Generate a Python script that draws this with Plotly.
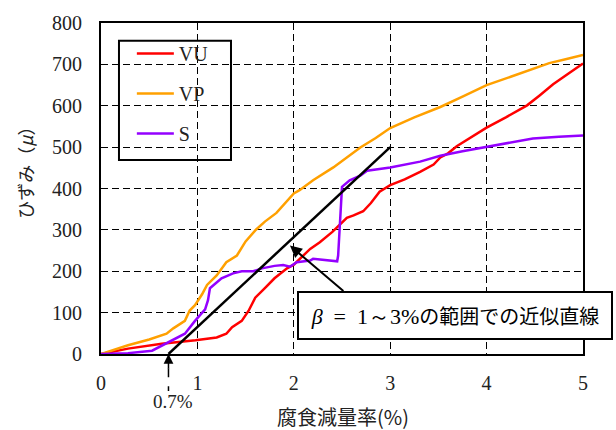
import plotly.graph_objects as go

# ---- data ----
vu_x = [0, 0.28, 0.63, 0.98, 1.2, 1.30, 1.36, 1.46, 1.53, 1.58, 1.60, 1.70, 1.80, 1.93, 2.0, 2.17, 2.27, 2.40,
        2.48, 2.55, 2.62, 2.72, 2.80, 2.89, 3.0, 3.15, 3.31, 3.45, 3.52, 3.60, 3.69, 3.85, 4.0, 4.2, 4.42,
        4.55, 4.69, 4.85, 5.0]
vu_y = [0, 13, 25, 33, 40, 49, 65, 80, 104, 130, 136, 159, 183, 207, 216, 254, 270, 295, 313, 329, 335, 345,
        365, 392, 408, 422, 440, 458, 475, 485, 502, 525, 547, 572, 601, 625, 652, 678, 702]

vp_x = [0, 0.28, 0.5, 0.68, 0.75, 0.87, 0.92, 0.975, 1.05, 1.10, 1.20, 1.30, 1.41, 1.50, 1.61, 1.70, 1.82,
        2.0, 2.06, 2.2, 2.41, 2.55, 2.69, 2.85, 3.0, 3.25, 3.52, 3.75, 4.0, 4.25, 4.48, 4.65, 4.83, 5.0]
vp_y = [0, 21, 35, 49, 62, 80, 105, 118, 145, 167, 190, 222, 238, 272, 301, 320, 341, 388, 396, 420, 451,
        475, 499, 522, 546, 572, 597, 622, 650, 670, 688, 703, 713, 723]

s_x = [0, 0.28, 0.53, 0.70, 0.87, 0.975, 1.08, 1.11, 1.13, 1.25, 1.37, 1.46, 1.58, 1.67, 1.80, 1.89, 1.96,
       2.03, 2.17, 2.20, 2.30, 2.45, 2.46, 2.50, 2.58, 2.69, 2.76, 3.0, 3.31, 3.52, 3.75, 4.0, 4.25, 4.48,
       4.75, 5.0]
s_y = [0, 2, 8, 29, 49, 80, 108, 130, 159, 183, 195, 200, 200, 207, 213, 215, 211, 222, 226, 230, 228, 224,
       238, 404, 420, 431, 443, 451, 465, 479, 490, 500, 510, 521, 525, 528]

fit_x = [0.7, 3.0]
fit_y = [0, 500]

x_ticks = [0, 1, 2, 3, 4, 5]
y_ticks = [0, 100, 200, 300, 400, 500, 600, 700, 800]

SERIF = "Liberation Serif"
JP = "Noto Sans CJK JP"

fig = go.Figure()
fig.add_trace(go.Scatter(x=vu_x, y=vu_y, mode="lines", name="VU", legendgroup="a",
                         line=dict(color="#FF0000", width=2.5)))
fig.add_trace(go.Scatter(x=vp_x, y=vp_y, mode="lines", name="VP", legendgroup="b",
                         line=dict(color="#FFA000", width=2.5)))
fig.add_trace(go.Scatter(x=s_x, y=s_y, mode="lines", name="S", legendgroup="c",
                         line=dict(color="#9400FF", width=2.5)))
fig.add_trace(go.Scatter(x=fit_x, y=fit_y, mode="lines", showlegend=False,
                         line=dict(color="black", width=2.5)))

axis_common = dict(showline=True, linecolor="black", linewidth=2, mirror=True,
                   showgrid=True, gridcolor="black", gridwidth=1.3, griddash="7px,4px",
                   zeroline=False, ticks="outside", tickcolor="rgba(0,0,0,0)",
                   tickfont=dict(family=SERIF, size=20, color="#222"))

fig.update_xaxes(range=[0, 5], tickvals=x_ticks, ticklen=10, **axis_common)
fig.update_yaxes(range=[0, 800], tickvals=y_ticks, ticklen=13, **axis_common)

fig.update_layout(
    width=616, height=430,
    margin=dict(l=101, r=33, t=16, b=76),
    plot_bgcolor="white", paper_bgcolor="white",
    showlegend=True,
    legend=dict(x=0.064, y=0.967, xanchor="left", yanchor="top",
                bgcolor="rgba(0,0,0,0)", borderwidth=0,
                font=dict(family=SERIF, size=20, color="#222"),
                tracegroupgap=11, itemwidth=37),
    shapes=[
        dict(type="rect", xref="paper", yref="paper", x0=0.0373, x1=0.2697, y0=0.5858, y1=0.9467,
             line=dict(color="black", width=2), fillcolor="white", layer="below"),
        dict(type="line", xref="x", yref="paper", x0=0.7, x1=0.7, y0=-0.043, y1=-0.112,
             line=dict(color="black", width=1.5, dash="dash")),
    ],
    annotations=[
        dict(text="ひずみ（<i>μ</i>）", xref="paper", yref="paper", x=-0.158, y=0.562,
             xanchor="center", yanchor="middle", textangle=-90,
             showarrow=False, font=dict(family=JP, size=18, color="#222")),
        dict(text="腐食減量率(%)", xref="paper", yref="paper", x=0.502, y=-0.189,
             xanchor="center", yanchor="middle",
             showarrow=False, font=dict(family=JP, size=20, color="#222")),
        dict(text="0.7%", xref="x", yref="paper", x=0.75, y=-0.142,
             xanchor="center", yanchor="middle",
             showarrow=False, font=dict(family=SERIF, size=19, color="#222")),
        dict(text="", x=0.7, y=0, xref="x", yref="y", showarrow=True, ax=0, ay=16,
             arrowhead=2, arrowsize=1.3, arrowwidth=1.5, arrowcolor="black"),
        dict(text="", x=1.96, y=262, xref="x", yref="y", axref="x", ayref="y", ax=2.53, ay=149,
             showarrow=True, arrowhead=2, arrowsize=1.2, arrowwidth=2, arrowcolor="black"),
        dict(text=("<span style='font-family:Liberation Serif;font-size:22px'>"
                   "<i>β</i>&nbsp;&nbsp;=&nbsp;&nbsp;1～3%</span>の範囲での近似直線"),
             xref="paper", yref="paper",
             x=0.7344, y=0.1169, xanchor="center", yanchor="middle", showarrow=False,
             width=312, height=45, bgcolor="white", bordercolor="black", borderwidth=2, borderpad=0,
             font=dict(family=JP, size=20, color="black")),
    ],
)

fig.write_html("out.html", config={"displayModeBar": False},
               post_script="document.body.style.margin='0';")
